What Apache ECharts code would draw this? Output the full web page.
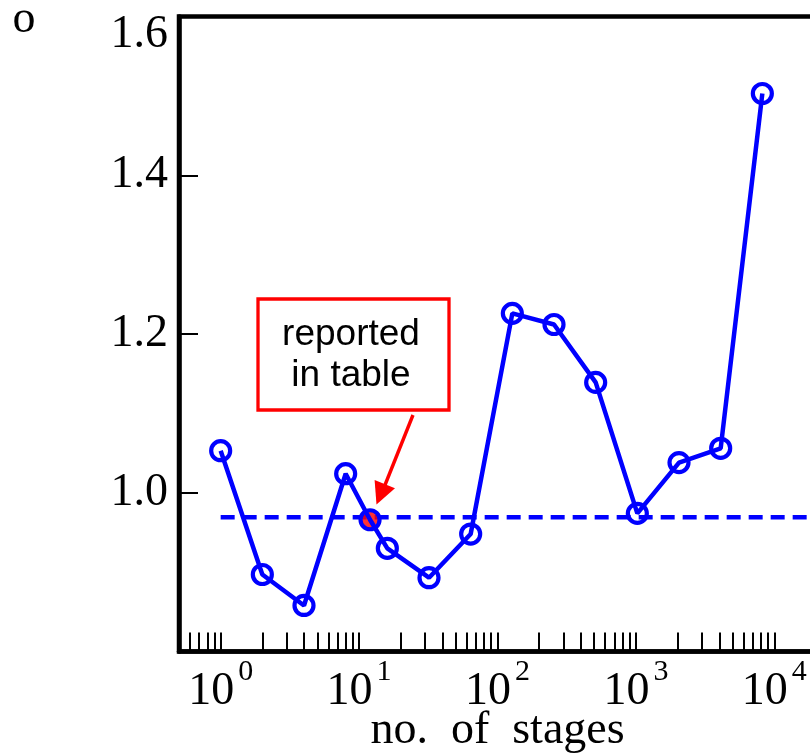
<!DOCTYPE html>
<html>
<head>
<meta charset="utf-8">
<script src="https://cdn.jsdelivr.net/npm/echarts@6/dist/echarts.min.js"></script>
<style>
  html, body { margin: 0; padding: 0; background: #fff; }
  #chart { width: 810px; height: 754px; }
</style>
</head>
<body>
<div id="chart"></div>
<script>
// values
var stages = [1, 2, 4, 8, 12, 16, 32, 64, 128, 256, 512, 1024, 2048, 4096, 8192];
var ratio = [1.053, 0.897, 0.858, 1.024, 0.966, 0.930, 0.893, 0.948, 1.226, 1.212, 1.139, 0.974, 1.038, 1.056, 1.503];
var reportedStages = 12;
var refValue = 0.969;
var refStages = [1, 20000];
var yTickLabels = ['1.0', '1.2', '1.4', '1.6'];
var tickDecades = [-1, 0, 1, 2, 3, 4];
var tickMultipliers = [1, 2, 3, 4, 5, 6, 7, 8, 9];

var xMin = 0.5, xMax = 20000;
var serif = 'Liberation Serif';
var blue = '#0000ff';

// tick marks of the log axis (in log10 units, drawn on an overlay axis)
var tickLogs = [];
tickDecades.forEach(function (k) {
  tickMultipliers.forEach(function (m) {
    var v = m * Math.pow(10, k);
    if (v > xMin && v < xMax) tickLogs.push(Math.log10(v));
  });
});

var lineData = stages.map(function (s, i) { return [s, ratio[i]]; });
var reportedIdx = stages.indexOf(reportedStages);

var chart = echarts.init(document.getElementById('chart'));

var gridBox = { left: 179, top: 16.5, width: 637, height: 635, outerBoundsMode: 'none', containLabel: false };

var option = {
  animation: false,
  grid: [
    Object.assign({ show: true, borderColor: '#000', borderWidth: 4.5 }, gridBox),
    Object.assign({ show: false }, gridBox)
  ],
  xAxis: [{
    type: 'log',
    gridIndex: 0,
    min: xMin,
    max: xMax,
    axisLine: { lineStyle: { color: '#000', width: 4.5 } },
    axisTick: { show: false },
    splitLine: { show: false },
    axisLabel: {
      margin: 6,
      formatter: function (v) {
        var l = Math.log10(v);
        var e = Math.round(l);
        if (Math.abs(l - e) > 1e-6) return '';
        return '{b|10}{s|' + e + '}';
      },
      rich: {
        b: { fontFamily: serif, fontSize: 46, color: '#000' },
        s: { fontFamily: serif, fontSize: 30, color: '#000', padding: [0, 0, 38, 4] }
      }
    },
    name: 'no.  of  stages',
    nameLocation: 'middle',
    nameGap: 56,
    nameMoveOverlap: false,
    nameTextStyle: { fontFamily: serif, fontSize: 46, color: '#000' }
  }, {
    type: 'value',
    gridIndex: 1,
    min: Math.log10(xMin),
    max: Math.log10(xMax),
    axisLine: { show: false },
    axisLabel: { show: false },
    splitLine: { show: false },
    axisTick: {
      show: true,
      inside: true,
      length: 19,
      lineStyle: { color: '#000', width: 2 },
      customValues: tickLogs
    }
  }],
  yAxis: [{
    type: 'value',
    gridIndex: 0,
    min: 0.8,
    max: 1.6,
    interval: 0.2,
    axisLine: { show: true, lineStyle: { color: '#000', width: 4.5 } },
    axisTick: { inside: true, length: 19, lineStyle: { color: '#000', width: 2 } },
    splitLine: { show: false },
    axisLabel: {
      margin: 11,
      fontFamily: serif,
      fontSize: 46,
      color: '#000',
      formatter: function (v) {
        var s = v.toFixed(1);
        if (yTickLabels.indexOf(s) < 0) return '';
        if (s === '1.6') return '{t|' + s + '}';
        return s;
      },
      rich: {
        t: { fontFamily: serif, fontSize: 46, color: '#000', padding: [36, 0, 0, 0] }
      }
    }
  }, {
    type: 'value',
    gridIndex: 1,
    show: false
  }],
  series: [{
    type: 'line',
    xAxisIndex: 0,
    yAxisIndex: 0,
    data: refStages.map(function (s) { return [s, refValue]; }),
    symbol: 'none',
    lineStyle: { color: blue, width: 4.5, type: [14, 8] },
    z: 1
  }, {
    type: 'scatter',
    xAxisIndex: 0,
    yAxisIndex: 0,
    data: [[stages[reportedIdx], ratio[reportedIdx]]],
    symbolSize: 19,
    itemStyle: { color: '#ff0000' },
    z: 2
  }, {
    type: 'line',
    xAxisIndex: 0,
    yAxisIndex: 0,
    data: lineData,
    symbol: 'circle',
    symbolSize: 19,
    itemStyle: { color: 'rgba(0,0,0,0)', borderColor: blue, borderWidth: 4.2 },
    lineStyle: { color: blue, width: 4.5 },
    z: 3
  }],
  graphic: [
    // label box
    {
      type: 'rect',
      shape: { x: 258, y: 299, width: 191, height: 111 },
      style: { fill: '#fff', stroke: '#ff0000', lineWidth: 3.3 },
      z: 10
    },
    {
      type: 'text',
      x: 351,
      y: 355,
      style: {
        text: 'reported\nin table',
        font: '37px "Liberation Sans"',
        fill: '#000',
        align: 'center',
        verticalAlign: 'middle',
        lineHeight: 41
      },
      z: 11
    },
    // arrow
    {
      type: 'line',
      shape: { x1: 413, y1: 415, x2: 385, y2: 485 },
      style: { stroke: '#ff0000', lineWidth: 3.4 },
      z: 10
    },
    {
      type: 'polygon',
      shape: { points: [[376.5, 504.5], [374.6, 479.9], [395, 488.3]] },
      style: { fill: '#ff0000' },
      z: 10
    },
    {
      type: 'text',
      x: 24,
      y: 20,
      style: {
        text: 'o',
        font: '46px "Liberation Serif"',
        fill: '#000',
        align: 'center',
        verticalAlign: 'middle'
      }
    }
  ]
};

chart.setOption(option);
</script>
</body>
</html>
